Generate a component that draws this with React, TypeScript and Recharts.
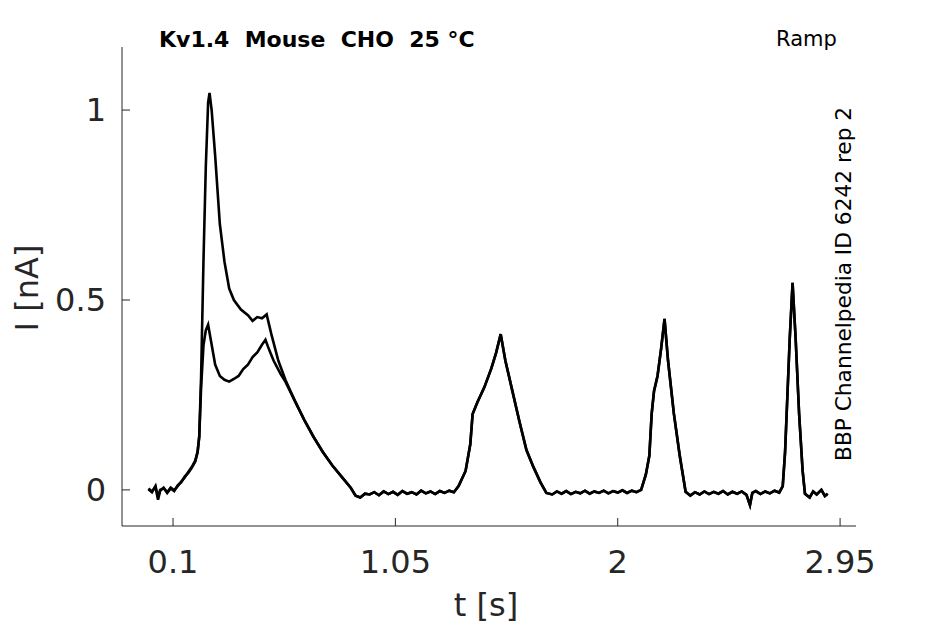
import { CartesianGrid, Line, LineChart, XAxis, YAxis } from "recharts";

// sweep 1: large transient peak
const tA = [
  -0.005, 0.01, 0.025, 0.036, 0.045, 0.06, 0.075, 0.09, 0.105, 0.12, 0.135, 0.15, 0.165, 0.18, 0.195, 0.205,
  0.212, 0.22, 0.23, 0.24, 0.25, 0.256, 0.265, 0.28, 0.3, 0.32, 0.34, 0.36, 0.39, 0.42, 0.44, 0.46, 0.48, 0.5,
  0.52, 0.55, 0.58,
];
const iA = [
  0.004, -0.004, 0.008, -0.026, -0.002, 0.006, -0.008, 0.004, -0.003, 0.012, 0.02, 0.035, 0.045, 0.058, 0.075, 0.1,
  0.14, 0.3, 0.6, 0.85, 1.02, 1.045, 1.0, 0.88, 0.7, 0.6, 0.53, 0.5, 0.475, 0.46, 0.445, 0.455, 0.452, 0.462,
  0.41, 0.34, 0.29,
];

// sweep 2: smaller double hump
const tB = [
  -0.005, 0.01, 0.025, 0.036, 0.045, 0.06, 0.075, 0.09, 0.105, 0.12, 0.135, 0.15, 0.165, 0.18, 0.195, 0.205,
  0.212, 0.22, 0.23, 0.24, 0.25, 0.26, 0.28, 0.3, 0.32, 0.34, 0.36, 0.38, 0.4, 0.42, 0.44, 0.46, 0.48, 0.495,
  0.51, 0.53, 0.56, 0.58,
];
const iB = [
  0.002, -0.006, 0.01, -0.02, 0.0, 0.004, -0.006, 0.006, -0.001, 0.01, 0.022, 0.033, 0.047, 0.06, 0.077, 0.1,
  0.14, 0.27, 0.38, 0.42, 0.435, 0.4, 0.33, 0.3, 0.29, 0.285, 0.292, 0.3, 0.318, 0.33, 0.35, 0.362, 0.382, 0.395,
  0.37, 0.34, 0.305, 0.285,
];

// shared tail: both sweeps overlap after ~0.6 s
const tTail = [
  0.62, 0.66, 0.7, 0.74, 0.78, 0.82, 0.86, 0.88, 0.9, 0.92,
  0.94, 0.96, 0.98, 1.0, 1.02, 1.04, 1.06, 1.08, 1.1, 1.12, 1.14, 1.16, 1.18, 1.2, 1.22, 1.24, 1.26, 1.28, 1.3,
  1.32, 1.35, 1.37, 1.38, 1.4, 1.43, 1.46, 1.48, 1.5, 1.52, 1.55, 1.58, 1.61, 1.64, 1.67, 1.695,
  1.72, 1.74, 1.76, 1.78, 1.8, 1.82, 1.84, 1.86, 1.88, 1.9, 1.92, 1.94, 1.96, 1.98, 2.0, 2.02, 2.04, 2.06, 2.08,
  2.1, 2.12, 2.135, 2.145, 2.155, 2.17, 2.185, 2.2, 2.215, 2.24, 2.265, 2.29,
  2.31, 2.33, 2.35, 2.37, 2.39, 2.41, 2.43, 2.45, 2.47, 2.49, 2.51, 2.53, 2.55, 2.565, 2.575, 2.59, 2.61, 2.63,
  2.65, 2.67, 2.69,
  2.705, 2.715, 2.725, 2.735, 2.747, 2.76, 2.775, 2.79, 2.8, 2.82, 2.835, 2.85, 2.87, 2.885, 2.897,
];
const iTail = [
  0.235, 0.185, 0.14, 0.1, 0.065, 0.035, 0.005, -0.015, -0.02, -0.01,
  -0.012, -0.006, -0.014, -0.004, -0.011, -0.005, -0.013, -0.003, -0.01, -0.006, -0.012, -0.002, -0.009, -0.004,
  -0.011, -0.003, -0.008, -0.002, -0.006,
  0.01, 0.05, 0.12, 0.2, 0.23, 0.27, 0.32, 0.36, 0.41, 0.34, 0.26, 0.18, 0.105, 0.06, 0.02, -0.008,
  -0.012, -0.004, -0.01, -0.003, -0.011, -0.005, -0.009, -0.002, -0.01, -0.004, -0.008, -0.002, -0.009, -0.003,
  -0.007, -0.001, -0.008, -0.002, -0.006,
  0.0, 0.04, 0.09, 0.2, 0.26, 0.3, 0.37, 0.45, 0.34, 0.2, 0.09, -0.005,
  -0.015, -0.006, -0.012, -0.004, -0.011, -0.005, -0.01, -0.003, -0.012, -0.005, -0.01, -0.004, -0.013, -0.04,
  -0.008, -0.003, -0.011, -0.004, -0.009, -0.002, -0.007,
  0.01, 0.1, 0.25, 0.4, 0.545, 0.4, 0.2, 0.05, -0.01, -0.02, -0.004, -0.012, 0.0, -0.016, -0.01,
];

const xTicks = [0.1, 1.05, 2, 2.95];
const yTicks = [0, 0.5, 1];

const toRows = (ts: number[], is: number[]) => ts.map((t, k) => ({ t, i: is[k] }));
const sweep1 = toRows([...tA, ...tTail], [...iA, ...iTail]);
const sweep2 = toRows([...tB, ...tTail], [...iB, ...iTail]);

const ink = "#262626";
const font = "DejaVu Sans";

export default function App() {
  return (
    <div style={{ position: "absolute", left: 0, top: 0, width: 945, height: 624, background: "#fff" }}>
      <LineChart width={945} height={624} margin={{ top: 47, right: 89, bottom: 58, left: 0 }}>
        <CartesianGrid stroke="none" />
        <XAxis
          type="number"
          dataKey="t"
          domain={[-0.118, 3.018]}
          ticks={xTicks}
          allowDataOverflow
          height={40}
          tickSize={-8}
          tickMargin={32}
          stroke={ink}
          tick={{ fill: ink, fontSize: 32, fontFamily: font }}
        />
        <YAxis
          type="number"
          domain={[-0.095, 1.166]}
          ticks={yTicks}
          allowDataOverflow
          width={122}
          tickSize={-8}
          tickMargin={24}
          stroke={ink}
          tick={{ fill: ink, fontSize: 32, fontFamily: font }}
        />
        <Line data={sweep1} dataKey="i" type="linear" stroke="#000" strokeWidth={2.6} dot={false} isAnimationActive={false} />
        <Line data={sweep2} dataKey="i" type="linear" stroke="#000" strokeWidth={2.6} dot={false} isAnimationActive={false} />
      </LineChart>
      <svg width={945} height={624} style={{ position: "absolute", left: 0, top: 0, pointerEvents: "none" }}>
        <text x={159} y={47} fontFamily={font} fontSize={22} fontWeight="bold" fill="#000">
          {"Kv1.4\u00a0 Mouse\u00a0 CHO\u00a0 25 °C"}
        </text>
        <text x={776} y={46} fontFamily={font} fontSize={21} fill="#000">
          Ramp
        </text>
        <text transform="translate(851,461) rotate(-90)" fontFamily={font} fontSize={21.7} fill="#000">
          BBP Channelpedia ID 6242 rep 2
        </text>
        <text transform="translate(38,288) rotate(-90)" textAnchor="middle" fontFamily={font} fontSize={32} fill={ink}>
          I [nA]
        </text>
        <text x={486} y={616} textAnchor="middle" fontFamily={font} fontSize={32} fill={ink}>
          t [s]
        </text>
      </svg>
    </div>
  );
}
